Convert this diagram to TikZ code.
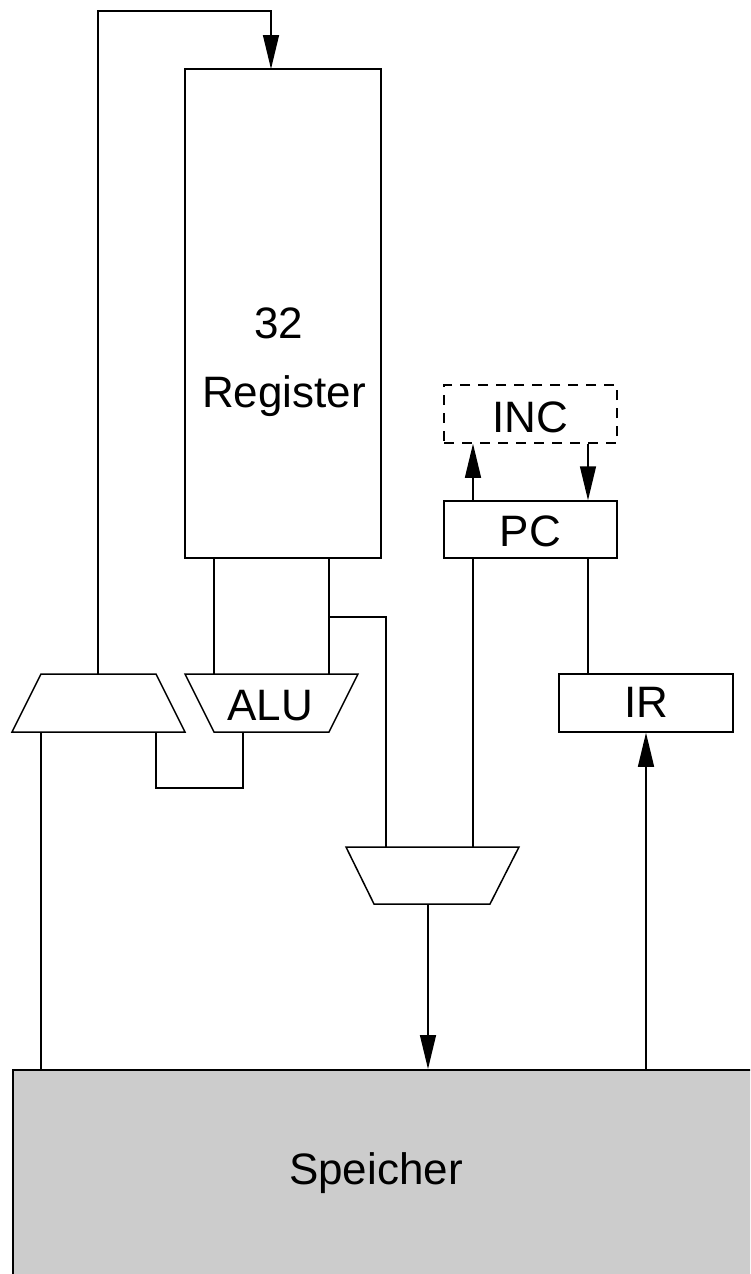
\documentclass[tikz,border=0pt]{standalone}
\usepackage{fontspec}
\setmainfont{Liberation Sans}
\usetikzlibrary{arrows.meta}
\begin{document}
\begin{tikzpicture}[x=1pt,y=-1pt,
  line width=1.5pt,
  box/.style={draw, rectangle, inner sep=0pt, line width=1.5pt},
  lbl/.style={font=\fontsize{44}{52}\selectfont, inner sep=0pt},
  arr/.style={-{Triangle[length=34pt,width=16pt]}},
  wire/.style={line width=1.5pt}]
\clip (0,0) rectangle (750,1274);
\fill[white] (0,0) rectangle (750,1274);
% Speicher
\node[box, fill=black!20, minimum width=744pt, minimum height=210pt, anchor=north west] (mem) at (12,1069) {};
\node[lbl, anchor=base] (memt) at (376,1184) {Speicher};
% Register file
\node[box, minimum width=196pt, minimum height=489pt] (reg) at (283,313.5) {};
\node[lbl, anchor=base] (n32) at (279,338) {32};
\node[lbl, anchor=base] (regt) at (284,407) {Register};
% INC, PC, IR
\node[box, dash pattern=on 10pt off 8pt, minimum width=173pt, minimum height=58pt] (inc) at (530.5,414) {};
\node[lbl, anchor=base] (inct) at (530.5,432) {INC};
\node[box, minimum width=173pt, minimum height=57pt] (pc) at (530.5,529.5) {};
\node[lbl, anchor=base] (pct) at (530.5,546) {PC};
\node[box, minimum width=174pt, minimum height=58pt] (ir) at (646,703) {};
\node[lbl, anchor=base] (irt) at (646,717) {IR};
% left multiplexer
\coordinate (m1a) at (41,674); \coordinate (m1b) at (156,674);
\coordinate (m1c) at (185,732); \coordinate (m1d) at (12,732);
\draw[wire, line join=miter] (m1a) -- (m1b) -- (m1c) -- (m1d) -- cycle;
% ALU
\coordinate (alua) at (185,674); \coordinate (alub) at (358,674);
\coordinate (aluc) at (329,732); \coordinate (alud) at (214,732);
\draw[wire, line join=miter] (alua) -- (alub) -- (aluc) -- (alud) -- cycle;
\node[lbl, anchor=base] (alut) at (270,720) {ALU};
% lower multiplexer
\coordinate (m2a) at (346,847); \coordinate (m2b) at (519,847);
\coordinate (m2c) at (490,904); \coordinate (m2d) at (374,904);
\draw[wire, line join=miter] (m2a) -- (m2b) -- (m2c) -- (m2d) -- cycle;
% connectors
\coordinate (t1) at (98,674);
\coordinate (regin) at (271,69);
\draw[wire, arr] (t1) -- (98,11) -- (271,11) -- (regin);
\draw[wire] (reg.south -| 214,0) -- (214,674);
\draw[wire] (reg.south -| 329,0) -- (329,674);
\draw[wire] (329,617) -- (386,617) -- (386,847);
\draw[wire] (41,732) -- (mem.north -| 41,0);
\draw[wire] (156,732) -- (156,788) -- (243,788) -- (243,732);
\draw[wire] (pc.south -| 473,0) -- (473,847);
\draw[wire, arr] (428,904) -- (mem.north -| 428,0);
\draw[wire, arr] (mem.north -| 646,0) -- (ir.south);
\draw[wire, arr] (pc.north -| 473,0) -- (inc.south -| 473,0);
\draw[wire, arr] (inc.south -| 588,0) -- (pc.north -| 588,0);
\draw[wire] (pc.south -| 588,0) -- (ir.north -| 588,0);
\end{tikzpicture}
\end{document}
